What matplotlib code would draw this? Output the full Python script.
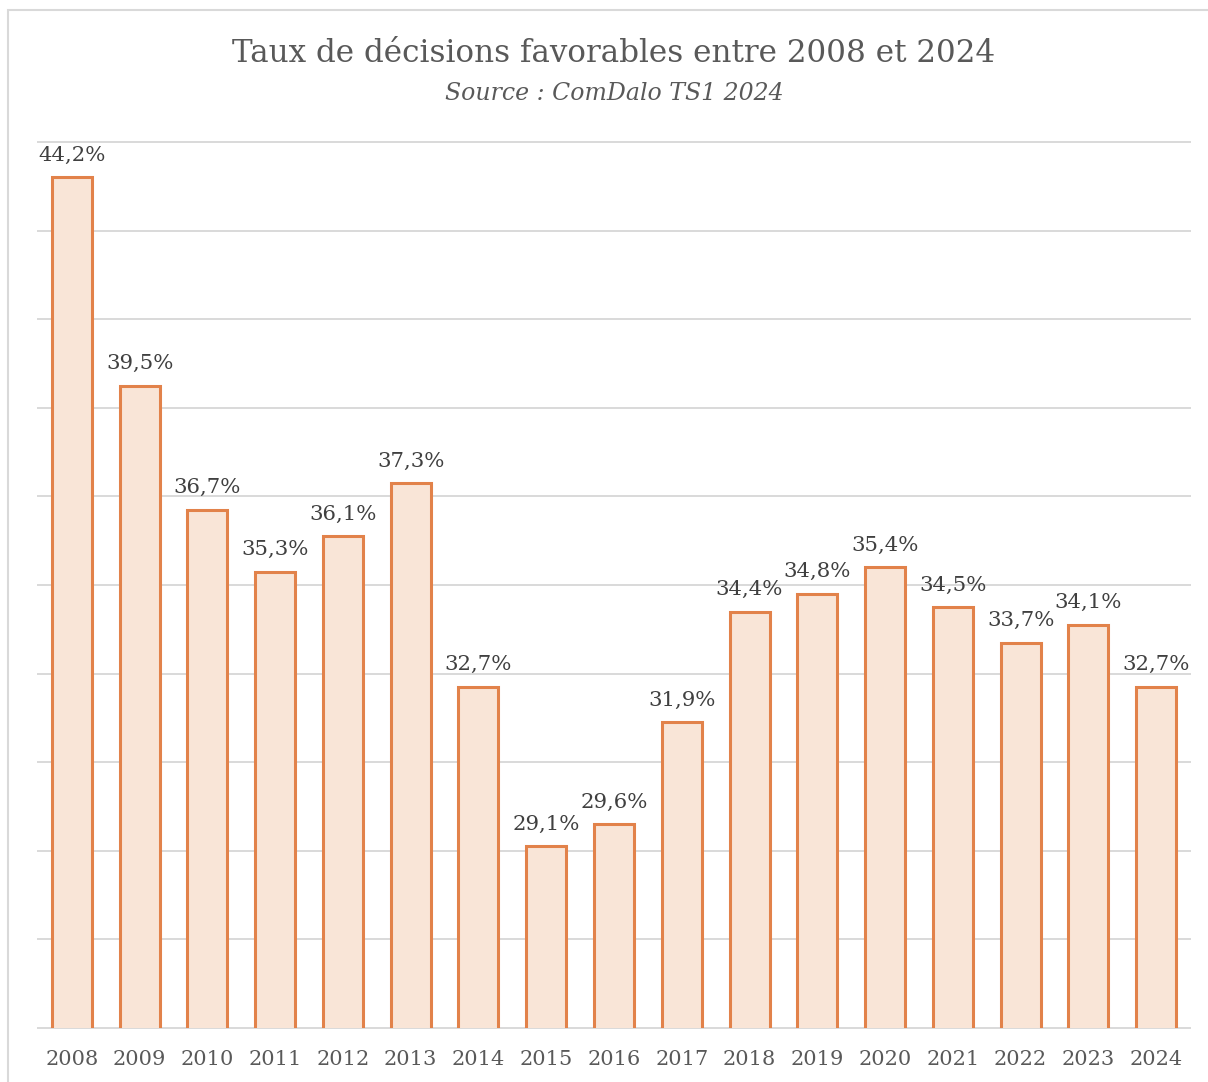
import matplotlib.pyplot as plt
from matplotlib.patches import Rectangle

# data
years = ['2008', '2009', '2010', '2011', '2012', '2013', '2014', '2015', '2016',
         '2017', '2018', '2019', '2020', '2021', '2022', '2023', '2024']
taux = [44.2, 39.5, 36.7, 35.3, 36.1, 37.3, 32.7, 29.1, 29.6,
        31.9, 34.4, 34.8, 35.4, 34.5, 33.7, 34.1, 32.7]
labels = ['{:.1f}%'.format(v).replace('.', ',') for v in taux]

font = 'DejaVu Serif'
grey = '#595959'

fig = plt.figure(figsize=(12.08, 10.82), dpi=100)

# light frame around the chart (runs off the right/bottom edge)
fig.patches.append(Rectangle((8 / 1208, -0.1), 1.2, (1082 - 10) / 1082 + 0.1,
                             transform=fig.transFigure, fill=False,
                             edgecolor='#d9d9d9', linewidth=1.5))

ax = fig.add_axes([38 / 1208, 54 / 1082, 1152 / 1208, 886 / 1082])
x = range(len(years))
ax.bar(x, taux, width=0.59, color='#f9e5d7', edgecolor='#e2824a',
       linewidth=2.2, zorder=3)

for xi, v, lab in zip(x, taux, labels):
    ax.annotate(lab, (xi, v), xytext=(0, 9), textcoords='offset points',
                ha='center', va='bottom', fontsize=15.3, family=font,
                color='#404040', zorder=4)

ax.set_xlim(-0.5, len(years) - 0.5)
ax.set_ylim(25, 45)
ax.set_yticks([25 + 2 * i for i in range(11)])
ax.yaxis.grid(True, color='#d9d9d9', linewidth=1.4, zorder=0)
for gl in ax.get_ygridlines():
    gl.set_clip_on(False)
ax.tick_params(axis='y', length=0, labelleft=False)
ax.tick_params(axis='x', length=0, pad=16)
ax.set_xticks(list(x))
ax.set_xticklabels(years, fontsize=15, family=font, color=grey)
for s in ax.spines.values():
    s.set_visible(False)

fig.text(614 / 1208, 1 - 54 / 1082, 'Taux de décisions favorables entre 2008 et 2024',
         ha='center', va='center', fontsize=22.3, family=font, color=grey)
fig.text(614 / 1208, 1 - 93 / 1082, 'Source : ComDalo TS1 2024', ha='center',
         va='center', fontsize=17, family=font, style='italic', color=grey)

fig.savefig('out.png', dpi=100)
